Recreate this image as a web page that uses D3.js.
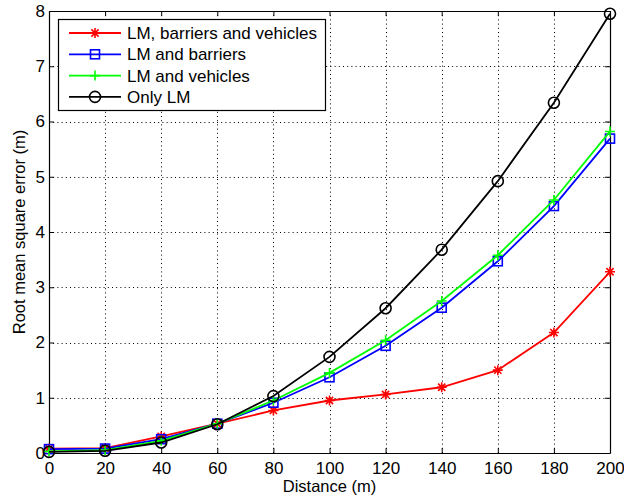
<!DOCTYPE html>
<html>
<head>
<meta charset="utf-8">
<script src="https://cdn.jsdelivr.net/npm/d3@7"></script>
<style>
  html, body { margin: 0; padding: 0; background: #fff; }
  svg { display: block; font-family: "Liberation Sans", Arial, Helvetica, sans-serif; }
</style>
</head>
<body>
<svg id="chart" width="624" height="497"></svg>
<script>
// Distance along the road (m)
const distances = [0, 20, 40, 60, 80, 100, 120, 140, 160, 180, 200];

// Root mean square error (m) for each configuration
const lmBarriersVehicles = [0.08, 0.09, 0.30, 0.53, 0.77, 0.95, 1.06, 1.19, 1.50, 2.18, 3.28];
const lmBarriers         = [0.07, 0.08, 0.25, 0.53, 0.91, 1.37, 1.94, 2.63, 3.47, 4.47, 5.69];
const lmVehicles         = [0.03, 0.05, 0.22, 0.53, 0.95, 1.45, 2.04, 2.75, 3.58, 4.58, 5.82];
const onlyLM             = [0.02, 0.04, 0.19, 0.52, 1.03, 1.74, 2.62, 3.68, 4.92, 6.34, 7.95];

const seriesNames = ["LM, barriers and vehicles", "LM and barriers", "LM and vehicles", "Only LM"];
const seriesColors = ["#ff0000", "#0000ff", "#00ff00", "#000000"];
const seriesMarkers = ["asterisk", "square", "plus", "circle"];

const xTicks = [0, 20, 40, 60, 80, 100, 120, 140, 160, 180, 200];
const yTicks = [0, 1, 2, 3, 4, 5, 6, 7, 8];

const series = [lmBarriersVehicles, lmBarriers, lmVehicles, onlyLM].map((vals, i) => ({
  name: seriesNames[i],
  color: seriesColors[i],
  marker: seriesMarkers[i],
  points: vals.map((v, j) => ({ x: distances[j], y: v }))
}));

const svg = d3.select("#chart");
const plotLeft = 49, plotRight = 610, plotTop = 11, plotBottom = 453;

const x = d3.scaleLinear().domain([0, 200]).range([plotLeft, plotRight]);
const y = d3.scaleLinear().domain([0, 8]).range([plotBottom, plotTop]);

// Dotted grid
const grid = svg.append("g").attr("stroke", "#000").attr("stroke-width", 1)
  .attr("stroke-dasharray", "1,3.2");
grid.selectAll(".gx").data(xTicks.slice(1, -1)).join("line")
  .attr("x1", d => Math.round(x(d)) + 0.5).attr("x2", d => Math.round(x(d)) + 0.5)
  .attr("y1", plotTop).attr("y2", plotBottom);
grid.selectAll(".gy").data(yTicks.slice(1, -1)).join("line")
  .attr("y1", d => Math.round(y(d)) + 0.5).attr("y2", d => Math.round(y(d)) + 0.5)
  .attr("x1", plotLeft).attr("x2", plotRight);

// Axes with inward ticks on all four sides
const tickLen = 5;
const bottomAxis = d3.axisBottom(x).tickValues(xTicks).tickSizeInner(-tickLen).tickSizeOuter(0).tickPadding(9);
const topAxis = d3.axisTop(x).tickValues(xTicks).tickSizeInner(-tickLen).tickSizeOuter(0).tickFormat("");
const leftAxis = d3.axisLeft(y).tickValues(yTicks).tickSizeInner(-tickLen).tickSizeOuter(0).tickPadding(4);
const rightAxis = d3.axisRight(y).tickValues(yTicks).tickSizeInner(-tickLen).tickSizeOuter(0).tickFormat("");

function styleAxis(g) {
  g.select(".domain").attr("stroke", "#000").attr("stroke-width", 1.2);
  g.selectAll(".tick line").attr("stroke", "#000");
  g.selectAll(".tick text").attr("fill", "#000").attr("font-size", 17)
    .attr("font-family", "Liberation Sans, Arial, sans-serif");
}
svg.append("g").attr("transform", `translate(0,${plotBottom})`).call(bottomAxis).call(styleAxis);
svg.append("g").attr("transform", `translate(0,${plotTop})`).call(topAxis).call(styleAxis);
svg.append("g").attr("transform", `translate(${plotLeft},0)`).call(leftAxis).call(styleAxis);
svg.append("g").attr("transform", `translate(${plotRight},0)`).call(rightAxis).call(styleAxis);

// Axis titles
svg.append("text").attr("x", (plotLeft + plotRight) / 2).attr("y", 492)
  .attr("text-anchor", "middle").attr("font-size", 16.5).text("Distance (m)");
svg.append("text").attr("transform", `translate(25,${(plotTop + plotBottom) / 2}) rotate(-90)`)
  .attr("text-anchor", "middle").attr("font-size", 16.5).text("Root mean square error (m)");

// Marker drawing
function drawMarker(g, type, color) {
  const s = 5;
  if (type === "asterisk") {
    g.append("path").attr("d",
      `M${-s},0L${s},0M0,${-s}L0,${s}M${-s * 0.72},${-s * 0.72}L${s * 0.72},${s * 0.72}M${-s * 0.72},${s * 0.72}L${s * 0.72},${-s * 0.72}`)
      .attr("stroke", color).attr("stroke-width", 1.6).attr("fill", "none");
  } else if (type === "square") {
    g.append("rect").attr("x", -4.5).attr("y", -4.5).attr("width", 9).attr("height", 9)
      .attr("stroke", color).attr("stroke-width", 1.6).attr("fill", "none");
  } else if (type === "plus") {
    g.append("path").attr("d", `M${-s},0L${s},0M0,${-s}L0,${s}`)
      .attr("stroke", color).attr("stroke-width", 1.6).attr("fill", "none");
  } else if (type === "circle") {
    g.append("circle").attr("r", 5.5)
      .attr("stroke", color).attr("stroke-width", 1.6).attr("fill", "none");
  }
}

// Lines and markers
const line = d3.line().x(d => x(d.x)).y(d => y(d.y));
const plot = svg.append("g");
series.forEach(s => {
  plot.append("path").datum(s.points).attr("d", line)
    .attr("fill", "none").attr("stroke", s.color).attr("stroke-width", 1.8);
  s.points.forEach(p => {
    const g = plot.append("g").attr("transform", `translate(${x(p.x)},${y(p.y)})`);
    drawMarker(g, s.marker, s.color);
  });
});

// Legend
const legend = svg.append("g");
legend.append("rect").attr("x", 58.5).attr("y", 19.5).attr("width", 267).attr("height", 91)
  .attr("fill", "#fff").attr("stroke", "#000").attr("stroke-width", 1.2);
series.forEach((s, i) => {
  const cy = 33 + i * 21.3;
  legend.append("line").attr("x1", 69).attr("x2", 121).attr("y1", cy).attr("y2", cy)
    .attr("stroke", s.color).attr("stroke-width", 1.8);
  drawMarker(legend.append("g").attr("transform", `translate(95,${cy})`), s.marker, s.color);
  legend.append("text").attr("x", 127).attr("y", cy + 6).attr("font-size", 17)
    .attr("fill", "#000").text(s.name);
});
</script>
</body>
</html>
